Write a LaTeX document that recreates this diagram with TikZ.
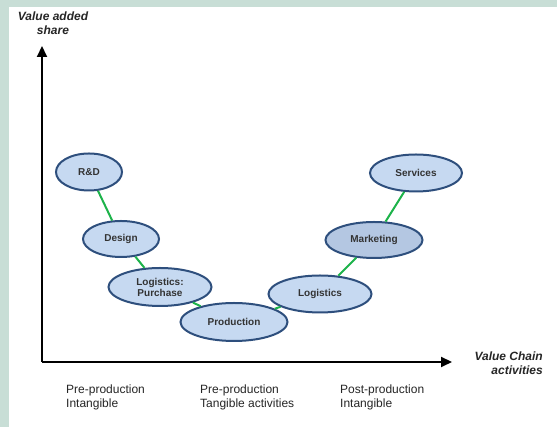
\documentclass[tikz,border=0pt]{standalone}
\usepackage{fontspec}
\setmainfont{Liberation Sans}
\usetikzlibrary{shapes.geometric,arrows.meta}
\definecolor{bandgreen}{HTML}{C8DED6}
\definecolor{ellfill}{HTML}{C6D9F1}
\definecolor{ellfilldark}{HTML}{B4C7E2}
\definecolor{ellborder}{HTML}{2E4F7D}
\definecolor{linkgreen}{HTML}{1DB34A}
\tikzset{
  act/.style={ellipse, draw=ellborder, line width=2pt, fill=ellfill, inner sep=0pt,
    font=\fontsize{10}{11}\selectfont\bfseries, text=black!80, align=center},
  link/.style={draw=linkgreen, line width=2pt},
  axis/.style={draw=black, line width=2pt, -{Triangle[length=11pt,width=10pt]}},
  axlabel/.style={font=\fontsize{12}{13.5}\selectfont\bfseries\itshape, align=center, inner sep=0pt, text=black!85},
  bottomlabel/.style={font=\fontsize{12}{13.5}\selectfont, align=left, anchor=north west, inner sep=0pt, text=black!85}
}
\begin{document}
\begin{tikzpicture}[x=1pt,y=1pt]
\useasboundingbox (0,0) rectangle (557,427);
\fill[white] (0,0) rectangle (557,427);
\fill[bandgreen] (0,420) rectangle (557,427);
\fill[bandgreen] (0,0) rectangle (9,427);
% axes
\coordinate (O) at (42,65);
\coordinate (ytip) at (42,381);
\coordinate (xtip) at (452,65);
\draw[axis] (O) -- (ytip);
\draw[axis] (O) -- (xtip);
\node[axlabel] (ylab) at (53,404) {Value added\\share};
\node[axlabel, align=right, anchor=east] (xlab) at (543,64) {Value Chain\\activities};
% activities
\node[act, minimum width=66pt, minimum height=37pt] (rd) at (89,255) {R\&D};
\node[act, minimum width=76pt, minimum height=36pt] (design) at (121,188) {Design};
\node[act, minimum width=103pt, minimum height=38pt] (purch) at (160,140) {Logistics:\\Purchase};
\node[act, minimum width=107pt, minimum height=38pt] (prod) at (234,105) {Production};
\node[act, minimum width=103pt, minimum height=37pt] (logi) at (320,133) {Logistics};
\node[act, minimum width=97pt, minimum height=36pt, fill=ellfilldark] (mark) at (374,187) {Marketing};
\node[act, minimum width=92pt, minimum height=37pt] (serv) at (416,254) {Services};
% links
\draw[link] (rd) -- (design);
\draw[link] (design) -- (purch);
\draw[link] (purch) -- (prod);
\draw[link] (prod) -- (logi);
\draw[link] (logi) -- (mark);
\draw[link] (mark) -- (serv);
% bottom labels
\node[bottomlabel] (b1) at (66,42) {Pre-production\\Intangible};
\node[bottomlabel] (b2) at (200,42) {Pre-production\\Tangible activities};
\node[bottomlabel] (b3) at (340,42) {Post-production\\Intangible};
\end{tikzpicture}
\end{document}
